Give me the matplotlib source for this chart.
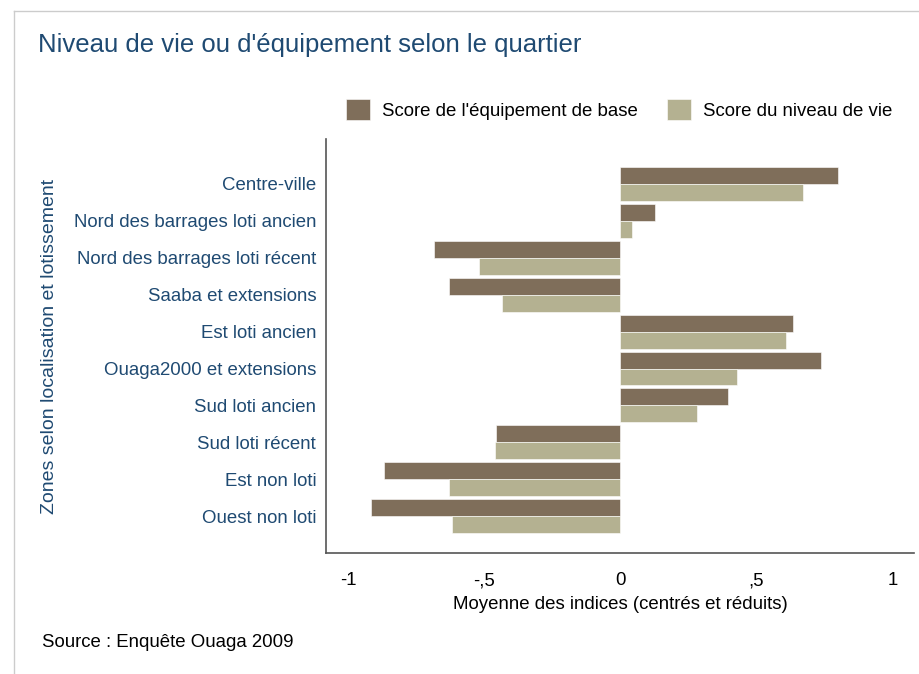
import matplotlib.pyplot as plt
import numpy as np
from matplotlib.lines import Line2D

plt.rcParams['font.family'] = ['Liberation Sans', 'DejaVu Sans']

zones = [
    "Centre-ville",
    "Nord des barrages loti ancien",
    "Nord des barrages loti récent",
    "Saaba et extensions",
    "Est loti ancien",
    "Ouaga2000 et extensions",
    "Sud loti ancien",
    "Sud loti récent",
    "Est non loti",
    "Ouest non loti",
]
equipement = [0.80, 0.127, -0.686, -0.631, 0.635, 0.736, 0.394, -0.457, -0.87, -0.917]
niveau_vie = [0.67, 0.042, -0.522, -0.437, 0.61, 0.43, 0.28, -0.46, -0.632, -0.62]

xticks = [-1, -0.5, 0, 0.5, 1]
xtick_labels = ["-1", "-,5", "0", ",5", "1"]

blue = "#1f4a72"
brown = "#7f6e5a"
khaki = "#b4b191"
fs = 13.4

fig = plt.figure(figsize=(9.19, 6.74), dpi=100)
ax = fig.add_axes([0.3547, 0.1795, 0.64, 0.6143])

y = np.arange(len(zones))
h = 0.46
ax.barh(y - h / 2, equipement, h, color=brown, edgecolor="white", linewidth=0.4,
        label="Score de l'équipement de base")
ax.barh(y + h / 2, niveau_vie, h, color=khaki, edgecolor="white", linewidth=0.4,
        label="Score du niveau de vie")

ax.set_ylim(len(zones), -1.22)
ax.set_xlim(-1.083, 1.08)
ax.set_yticks(y, zones, color=blue, fontsize=fs)
ax.set_xticks(xticks, xtick_labels, fontsize=fs)
ax.tick_params(axis="both", length=0)
ax.tick_params(axis="x", pad=14)
ax.tick_params(axis="y", pad=7)

for s in ("top", "right"):
    ax.spines[s].set_visible(False)
for s in ("left", "bottom"):
    ax.spines[s].set_color("#555555")
    ax.spines[s].set_linewidth(1.2)

ax.set_xlabel("Moyenne des indices (centrés et réduits)", fontsize=fs, labelpad=5)
ax.set_ylabel("Zones selon localisation et lotissement", fontsize=14, color=blue)
ax.yaxis.set_label_coords(-0.455, 0.5)

fig.legend(loc="center", bbox_to_anchor=(0.674, 0.837), ncol=2, frameon=False,
           fontsize=fs, handlelength=1.29, handleheight=1.34,
           handletextpad=0.65, columnspacing=1.56)

fig.text(0.041, 0.933, "Niveau de vie ou d'équipement selon le quartier",
         fontsize=18.5, color=blue, va="center", ha="left")
fig.text(0.046, 0.047, "Source : Enquête Ouaga 2009", fontsize=fs,
         va="center", ha="left")

# card border
fig.add_artist(Line2D([0.0155, 1.0], [0.984, 0.984], color="#cccccc", lw=1))
fig.add_artist(Line2D([0.0155, 0.0155], [0.0, 0.984], color="#cccccc", lw=1))

fig.savefig("out.png", dpi=100)
